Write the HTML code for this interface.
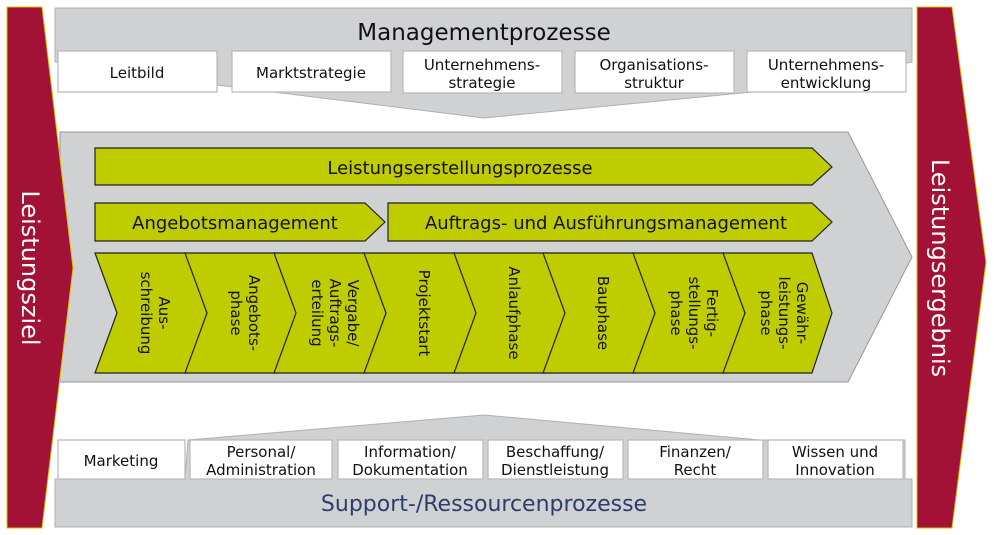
<!DOCTYPE html>
<html><head><meta charset="utf-8"><style>
html,body{margin:0;padding:0;background:#fff;}
svg{display:block;}
text{font-family:"DejaVu Sans","Liberation Sans",sans-serif;}
</style></head><body>
<svg width="994" height="535" viewBox="0 0 994 535" xmlns="http://www.w3.org/2000/svg">
<!-- top gray -->
<polygon points="55,8 912,8 912,62 752,92 484,118 217,85 55,62" fill="#d0d1d3" stroke="#b0b0b0" stroke-width="1"/>
<text x="484" y="40" text-anchor="middle" font-size="23" fill="#111">Managementprozesse</text>
<g fill="#fff" stroke="#b8b8b8" stroke-width="1.2">
<rect x="58" y="51" width="159" height="41"/>
<rect x="232" y="51" width="159" height="41"/>
<rect x="403" y="51" width="159" height="42"/>
<rect x="575" y="51" width="159" height="42"/>
<rect x="747" y="51" width="159" height="41"/>
</g>
<g font-size="15" fill="#111" text-anchor="middle">
<text x="137" y="78">Leitbild</text>
<text x="311" y="78">Marktstrategie</text>
<text x="482" y="70">Unternehmens-</text><text x="482" y="88">strategie</text>
<text x="654" y="70">Organisations-</text><text x="654" y="88">struktur</text>
<text x="826" y="70">Unternehmens-</text><text x="826" y="88">entwicklung</text>
</g>

<!-- middle gray -->
<polygon points="60,132 848,132 912,257 848,382 60,382" fill="#d0d1d3" stroke="#999" stroke-width="1"/>

<!-- green bars -->
<g fill="#bfcc00" stroke="#222" stroke-width="1.2">
<polygon points="95,148 812,148 832,167 812,185 95,185"/>
<polygon points="95,203 365,203 385,222 365,241 95,241"/>
<polygon points="388,203 812,203 832,222 812,241 388,241"/>
</g>
<g font-size="18" fill="#111" text-anchor="middle">
<text x="460" y="174">Leistungserstellungsprozesse</text>
<text x="235" y="229">Angebotsmanagement</text>
<text x="606" y="229">Auftrags- und Ausführungsmanagement</text>
</g>

<!-- chevrons -->
<g fill="#bfcc00" stroke="#222" stroke-width="1.2">
<polygon points="95,253 187,253 207,313 187,373 95,373 117,313"/>
<polygon points="185,253 277,253 297,313 277,373 185,373 207,313"/>
<polygon points="274,253 366,253 386,313 366,373 274,373 296,313"/>
<polygon points="364,253 456,253 476,313 456,373 364,373 386,313"/>
<polygon points="454,253 546,253 566,313 546,373 454,373 476,313"/>
<polygon points="543,253 635,253 655,313 635,373 543,373 565,313"/>
<polygon points="633,253 725,253 745,313 725,373 633,373 655,313"/>
<polygon points="723,253 812,253 832,313 812,373 723,373 745,313"/>
</g>
<g font-size="15" fill="#111" text-anchor="middle">
<g transform="translate(155,313) rotate(90)"><text x="0" y="-4">Aus-</text><text x="0" y="14">schreibung</text></g>
<g transform="translate(245,313) rotate(90)"><text x="0" y="-4">Angebots-</text><text x="0" y="14">phase</text></g>
<g transform="translate(334,313) rotate(90)"><text x="0" y="-14">Vergabe/</text><text x="0" y="4">Auftrags-</text><text x="0" y="22">erteilung</text></g>
<g transform="translate(424,313) rotate(90)"><text x="0" y="5">Projektstart</text></g>
<g transform="translate(514,313) rotate(90)"><text x="0" y="5">Anlaufphase</text></g>
<g transform="translate(603,313) rotate(90)"><text x="0" y="5">Bauphase</text></g>
<g transform="translate(693,313) rotate(90)"><text x="0" y="-14">Fertig-</text><text x="0" y="4">stellungs-</text><text x="0" y="22">phase</text></g>
<g transform="translate(783,313) rotate(90)"><text x="0" y="-14">Gewähr-</text><text x="0" y="4">leistungs-</text><text x="0" y="22">phase</text></g>
</g>

<!-- bottom gray -->
<polygon points="55,527 912,527 912,479 905,479 905,440 760,440 484,415 188,440 185,479 55,479" fill="#d0d1d3" stroke="#b0b0b0" stroke-width="1"/>
<g fill="#fff" stroke="#b8b8b8" stroke-width="1.2">
<rect x="58" y="440" width="127" height="39"/>
<rect x="190" y="440" width="142" height="39"/>
<rect x="338" y="440" width="145" height="39"/>
<rect x="488" y="440" width="135" height="39"/>
<rect x="628" y="440" width="135" height="39"/>
<rect x="768" y="440" width="135" height="39"/>
</g>
<g font-size="15" fill="#111" text-anchor="middle">
<text x="121" y="466">Marketing</text>
<text x="261" y="457">Personal/</text><text x="261" y="475">Administration</text>
<text x="410" y="457">Information/</text><text x="410" y="475">Dokumentation</text>
<text x="555" y="457">Beschaffung/</text><text x="555" y="475">Dienstleistung</text>
<text x="695" y="457">Finanzen/</text><text x="695" y="475">Recht</text>
<text x="835" y="457">Wissen und</text><text x="835" y="475">Innovation</text>
</g>
<text x="484" y="511" text-anchor="middle" font-size="22" fill="#2e3d6e">Support-/Ressourcenprozesse</text>

<!-- red side shapes (on top) -->
<polygon points="7,7 42,7 73,268 42,528 7,528" fill="#a31136" stroke="#c8c800" stroke-width="1"/>
<polygon points="917,7 952,7 986,262 952,528 917,528" fill="#a31136" stroke="#c8c800" stroke-width="1"/>
<text transform="translate(22,268) rotate(90)" text-anchor="middle" font-size="24" fill="#fff">Leistungsziel</text>
<text transform="translate(932,268) rotate(90)" text-anchor="middle" font-size="24" fill="#fff">Leistungsergebnis</text>
</svg>
</body></html>
